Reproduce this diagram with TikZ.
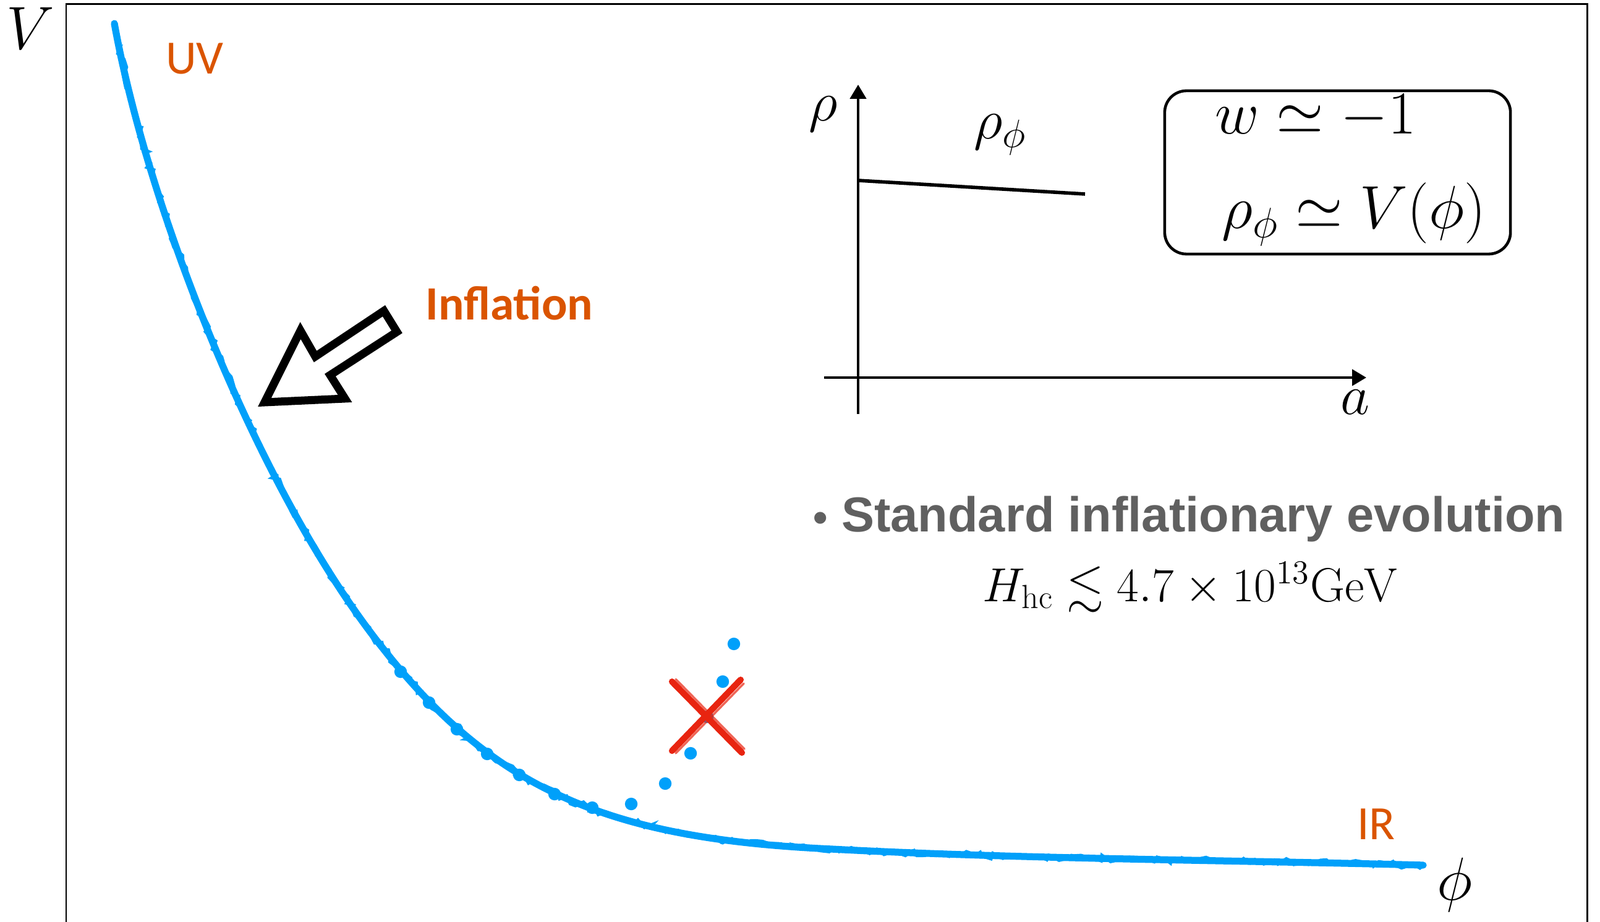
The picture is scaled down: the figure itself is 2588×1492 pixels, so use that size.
\RequirePackage{fix-cm}
\documentclass[tikz,border=0pt]{standalone}
\usepackage{amsmath,amssymb}
\usepackage{fontspec}
\newfontfamily\calibrifont{Carlito}
\newfontfamily\arialfont{Liberation Sans}
\usetikzlibrary{arrows.meta,decorations.pathmorphing}
\definecolor{chalkblue}{RGB}{0,160,250}
\definecolor{labelorange}{RGB}{218,84,0}
\definecolor{crossred}{RGB}{232,36,16}
\definecolor{textgray}{RGB}{96,96,96}
\newcommand{\fsz}[1]{\fontsize{#1}{#1}\selectfont}
\newcommand{\potential}{(185,38) .. controls (239,338) and (420,800) .. (620,1050) .. controls (807,1288) and (1000,1358) .. (1345,1374) .. controls (1645,1390) and (2000,1392) .. (2302,1400)}
\begin{document}
\begin{tikzpicture}[x=0.01cm,y=-0.01cm,inner sep=0pt,axis/.style={line width=1.2pt,-{Triangle[length=6.5pt,width=7.4pt]}},chalk/.style={chalkblue,line width=3.2pt,line cap=round,line join=round},chalk edge/.style={chalkblue,line width=1.4pt,decorate,decoration={random steps,segment length=2.5pt,amplitude=1.6pt}},cross/.style={crossred,line width=2.9pt,line cap=round},orange label/.style={labelorange,font={\calibrifont\fsz{22}}},math label/.style={font=\fsz{26}}]
            \useasboundingbox (0,0) rectangle (2588,1492);
            \draw[line width=0.85pt] (107,1492) -- (107,7) -- (2567,7) -- (2567,1492);

            \node [math label, font=\fsz{28}](V) at (49,46) {$V$};
            \node [math label, font=\fsz{28}](phi) at (2353,1432) {$\phi$};
            \node [orange label, anchor=base](UV) at (315,120) {UV};
            \node [orange label, anchor=base](IR) at (2226,1358) {IR};
            \node [orange label, font={\calibrifont\bfseries\fsz{22}}, anchor=base](infl) at (824,518) {Inflation};

            \draw[chalk] \potential;
            \draw[chalk edge] \potential;
            \foreach \p in {(648,1087),(694,1137),(739,1180),(788,1220),(840,1254),(897,1285),(958,1307),(1021,1301),(1076,1268),(1117,1219),(1144,1160),(1169,1103),(1187,1042)}
                \fill[chalkblue] \p circle (2.9pt);

            \draw[cross] (1087,1103) -- (1200,1218);
            \draw[cross] (1198,1100) -- (1087,1215);
            \draw[cross, line width=1pt, opacity=0.7] (1093,1099) -- (1204,1212);
            \draw[cross, line width=1pt, opacity=0.7] (1203,1106) -- (1093,1219);

            \draw[line width=3.7pt, line join=miter, fill=white] (428,651) -- (486,535) -- (510,577) -- (621,503) -- (642,537) -- (534,607) -- (558,645) -- cycle;

            \coordinate (xstart) at (1333,611);
            \coordinate (xend) at (2210,611);
            \coordinate (ystart) at (1388,670);
            \coordinate (yend) at (1388,137);
            \draw[axis] (xstart) -- (xend);
            \draw[axis] (ystart) -- (yend);
            \coordinate (rho0) at (1388,292);
            \coordinate (rho1) at (1755,314);
            \draw[line width=1.6pt] (rho0) -- (rho1);
            \node [math label](rho) at (1332,185) {$\rho$};
            \node [math label](rhophi) at (1618,218) {$\rho_\phi$};
            \node [math label](a) at (2192,651) {$a$};

            \node [draw, line width=1.3pt, rounded corners=10pt, minimum width=5.59cm, minimum height=2.64cm](box) at (2163.5,279) {};
            \node [math label, font=\fsz{28}, anchor=base](w) at (2128,217) {$w \simeq -1$};
            \node [math label, font=\fsz{28}, anchor=base](rhoV) at (2190,370) {$\rho_\phi \simeq V(\phi)$};

            \node [textgray, font={\arialfont\bfseries\fsz{22.6}}, anchor=base west](std) at (1315,860) {{\fsz{19}•} Standard inflationary evolution};
            \node [font=\fsz{22}, anchor=base](hc) at (1925,973) {$H_{\mathrm{hc}} \lesssim 4.7\times 10^{13}\mathrm{GeV}$};
        \end{tikzpicture}
\end{document}
